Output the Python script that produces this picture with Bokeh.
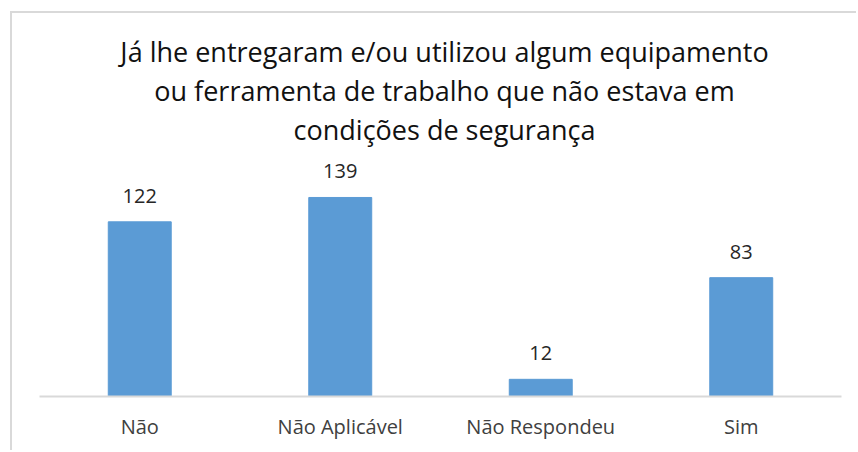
from bokeh.plotting import figure
from bokeh.models import ColumnDataSource, LabelSet, Label
from bokeh.core.properties import value
from bokeh.embed import file_html
from bokeh.resources import INLINE

# Respostas à pergunta sobre equipamentos sem condições de segurança
categorias = ["Não", "Não Aplicável", "Não Respondeu", "Sim"]
respostas = [122, 139, 12, 83]

titulo = ["Já lhe entregaram e/ou utilizou algum equipamento",
          "ou ferramenta de trabalho que não estava em",
          "condições de segurança"]

FONT = "Open Sans"
BAR = "#5B9BD5"
GRID = "#D9D9D9"

# a área do gráfico ocupa toda a altura; o título fica na parte de cima
FRAME_H = 383
Y_END = 267.5
px = Y_END / FRAME_H  # unidades de dados por pixel

source = ColumnDataSource(data=dict(cat=categorias, val=respostas,
                                    txt=[str(v) for v in respostas]))

p = figure(x_range=categorias, y_range=(0, Y_END),
           width=846, height=439,
           output_backend="svg", toolbar_location=None,
           min_border_left=27, min_border_right=17,
           min_border_top=0, min_border_bottom=56,
           styles={"margin-left": "10px", "margin-top": "11px",
                   "border-left": f"2px solid {GRID}",
                   "border-top": f"2px solid {GRID}"})

p.x_range.range_padding = 0

p.vbar(x="cat", top="val", width=0.314, color=BAR, source=source)

labels = LabelSet(x="cat", y="val", text="txt", source=source,
                  text_align="center", text_baseline="bottom",
                  y_offset=19, text_font=value(FONT), text_font_size="20px",
                  text_color="#262626")
p.add_layout(labels)

# título em três linhas centradas
for i, linha in enumerate(titulo):
    p.add_layout(Label(text=linha, x=2.0, y=(345 - 39 * i) * px,
                       x_offset=4,
                       text_align="center", text_baseline="alphabetic",
                       text_font=FONT, text_font_size="27px",
                       text_color="#111111"))

p.yaxis.visible = False
p.xgrid.grid_line_color = None
p.ygrid.grid_line_color = None
p.outline_line_color = None

p.xaxis.axis_line_color = GRID
p.xaxis.axis_line_width = 2
p.xaxis.major_tick_line_color = None
p.xaxis.minor_tick_line_color = None
p.xaxis.major_label_text_font = FONT
p.xaxis.major_label_text_font_size = "20px"
p.xaxis.major_label_text_color = "#404040"
p.xaxis.major_label_standoff = 10

open("out.html", "w").write(file_html(p, INLINE))
